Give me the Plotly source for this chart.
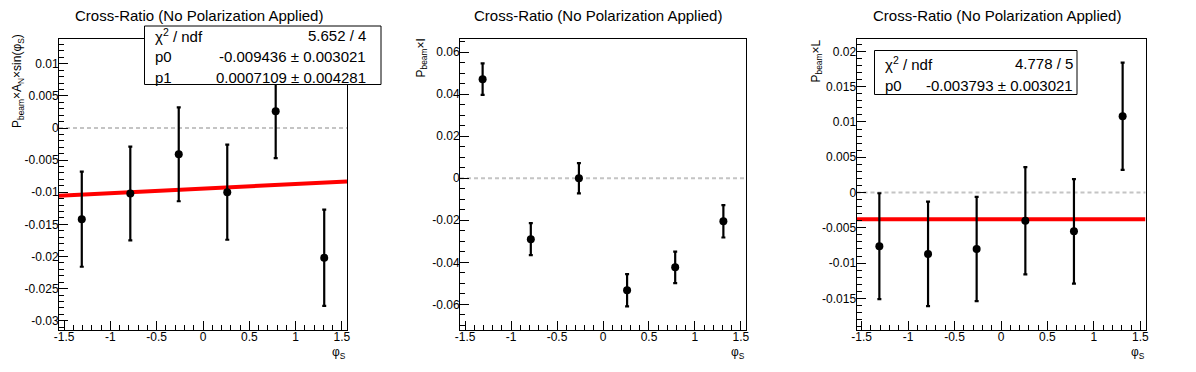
import plotly.graph_objects as go

# ---------------- data ----------------
phi = [-1.309, -0.785, -0.262, 0.262, 0.785, 1.309]

an_y = [-0.0142, -0.0102, -0.0041, -0.0100, 0.0026, -0.0202]
an_err = [0.0074, 0.0073, 0.0073, 0.0074, 0.0073, 0.0075]

i_y = [0.0471, -0.0290, 0.0000, -0.0533, -0.0424, -0.0205]
i_err = [0.0075, 0.0076, 0.0072, 0.0077, 0.0075, 0.0077]

l_y = [-0.0076, -0.0087, -0.0080, -0.0040, -0.0055, 0.0108]
l_err = [0.0075, 0.0074, 0.0074, 0.0076, 0.0074, 0.0076]

fit1_p0, fit1_p1 = -0.009436, 0.0007109
fit3_p0 = -0.003793

x_ticks = [-1.5, -1, -0.5, 0, 0.5, 1, 1.5]
x_ticklabels = ["-1.5", "-1", "-0.5", "0", "0.5", "1", "1.5"]
y1_ticks = [-0.03, -0.025, -0.02, -0.015, -0.01, -0.005, 0, 0.005, 0.01]
y1_ticklabels = ["-0.03", "-0.025", "-0.02", "-0.015", "-0.01", "-0.005", "0", "0.005", "0.01"]
y2_ticks = [-0.06, -0.04, -0.02, 0, 0.02, 0.04, 0.06]
y2_ticklabels = ["-0.06", "-0.04", "-0.02", "0", "0.02", "0.04", "0.06"]
y3_ticks = [-0.015, -0.01, -0.005, 0, 0.005, 0.01, 0.015, 0.02]
y3_ticklabels = ["-0.015", "-0.01", "-0.005", "0", "0.005", "0.01", "0.015", "0.02"]

title_text = "Cross-Ratio (No Polarization Applied)"

# ---------------- layout geometry (pixels) ----------------
W, H = 1196, 372
FONT = "Liberation Sans, Arial, Helvetica, sans-serif"


def px(x):
    return x / W


def py(y):
    return 1 - y / H


frames = [(59, 347), (460, 746), (856.5, 1145.5)]
ftop, fbot = 39, 330
xr = [-1.555, 1.555]
yranges = [[-0.03145, 0.01386], [-0.0722, 0.0662], [-0.01948, 0.02176]]

fig = go.Figure()

# fit lines (drawn first so markers sit on top)
fx = [xr[0], xr[1]]
fig.add_trace(go.Scatter(x=fx, y=[fit1_p0 + fit1_p1 * v for v in fx], mode="lines",
                         line=dict(color="#ff0000", width=4), xaxis="x", yaxis="y",
                         showlegend=False, hoverinfo="skip"))
fig.add_trace(go.Scatter(x=fx, y=[fit3_p0 for v in fx], mode="lines",
                         line=dict(color="#ff0000", width=4), xaxis="x3", yaxis="y3",
                         showlegend=False, hoverinfo="skip"))

for k, (yy, ee) in enumerate([(an_y, an_err), (i_y, i_err), (l_y, l_err)]):
    xa = "x" if k == 0 else f"x{k+1}"
    ya = "y" if k == 0 else f"y{k+1}"
    fig.add_trace(go.Scatter(
        x=phi, y=yy, mode="markers", xaxis=xa, yaxis=ya, showlegend=False,
        marker=dict(color="black", size=8, symbol="circle"),
        error_y=dict(type="data", array=ee, visible=True, color="black",
                     thickness=2.2, width=2),
    ))

ytick_sets = [(y1_ticks, y1_ticklabels, 0.001), (y2_ticks, y2_ticklabels, 0.005),
              (y3_ticks, y3_ticklabels, 0.001)]

layout = dict(
    width=W, height=H, margin=dict(l=0, r=0, t=0, b=0),
    paper_bgcolor="white", plot_bgcolor="white",
    font=dict(family=FONT, color="black", size=12),
    showlegend=False,
)

shapes = []
annotations = []
for k in range(3):
    sx = "" if k == 0 else str(k + 1)
    x0, x1 = frames[k]
    tv, tl, ydt = ytick_sets[k]
    layout["xaxis" + sx] = dict(
        domain=[px(x0), px(x1)], anchor="y" + sx, range=xr,
        tickmode="array", tickvals=x_ticks, ticktext=x_ticklabels,
        ticks="inside", ticklen=9, tickwidth=1, tickcolor="black",
        minor=dict(tickmode="linear", tick0=0, dtick=0.1, ticks="inside",
                   ticklen=5, tickwidth=1, tickcolor="black", showgrid=False),
        showline=True, linecolor="black", linewidth=1, mirror=True,
        showgrid=False, zeroline=False, automargin=False,
        ticklabelstandoff=-4,
        tickfont=dict(family=FONT, size=12, color="black"),
    )
    layout["yaxis" + sx] = dict(
        domain=[py(fbot), py(ftop)], anchor="x" + sx, range=yranges[k],
        tickmode="array", tickvals=tv, ticktext=tl,
        ticks="inside", ticklen=9, tickwidth=1, tickcolor="black",
        minor=dict(tickmode="linear", tick0=0, dtick=ydt, ticks="inside",
                   ticklen=5, tickwidth=1, tickcolor="black", showgrid=False),
        showline=True, linecolor="black", linewidth=1, mirror=True,
        showgrid=False, zeroline=False, automargin=False,
        ticklabelstandoff=-3,
        tickfont=dict(family=FONT, size=12, color="black"),
    )
    # dashed zero line
    shapes.append(dict(type="line", xref=f"x{sx} domain", yref="y" + sx,
                       x0=0, x1=1, y0=0, y1=0, layer="below",
                       line=dict(color="#c4c4c4", width=2, dash="4px,3px")))
    # pad title
    pad_c = [199, 598, 997][k]
    annotations.append(dict(text=title_text, xref="paper", yref="paper",
                            x=px(pad_c), y=py(16), xanchor="center", yanchor="middle",
                            showarrow=False, font=dict(family=FONT, size=15, color="black")))
    # x title
    annotations.append(dict(text="φ<sub>S</sub>", xref="paper", yref="paper",
                            x=px(x1 + 1), y=py(343), xanchor="right", yanchor="top",
                            showarrow=False, font=dict(family=FONT, size=12, color="black")))

ytitles = [("P<sub>beam</sub>×A<sub>N</sub>×sin(φ<sub>S</sub>)", 18, 32),
           ("P<sub>beam</sub>×I", 421, 37),
           ("P<sub>beam</sub>×L", 816, 38)]
for t, xc, yt in ytitles:
    annotations.append(dict(text=t, xref="paper", yref="paper", x=px(xc), y=py(yt),
                            xanchor="center", yanchor="top", textangle=-90,
                            showarrow=False, font=dict(family=FONT, size=12, color="black")))

# stats boxes
STAT = 15
shapes.append(dict(type="rect", xref="paper", yref="paper", x0=px(144.5), x1=px(381),
                   y0=py(84.5), y1=py(26), layer="above",
                   fillcolor="white", line=dict(color="black", width=1)))
stat1 = [("χ<sup>2</sup> / ndf", "5.652 / 4", 35.5),
         ("p0", "-0.009436 ± 0.003021", 57),
         ("p1", "0.0007109 ± 0.004281", 77)]
for lab, val, yc in stat1:
    annotations.append(dict(text=lab, xref="paper", yref="paper", x=px(153), y=py(yc),
                            xanchor="left", yanchor="middle", showarrow=False,
                            font=dict(family=FONT, size=STAT, color="black")))
    annotations.append(dict(text=val, xref="paper", yref="paper", x=px(367.5), y=py(yc),
                            xanchor="right", yanchor="middle", showarrow=False,
                            font=dict(family=FONT, size=STAT, color="black")))

shapes.append(dict(type="rect", xref="paper", yref="paper", x0=px(874.5), x1=px(1077),
                   y0=py(94.5), y1=py(50.5), layer="above",
                   fillcolor="white", line=dict(color="black", width=1)))
stat3 = [("χ<sup>2</sup> / ndf", "4.778 / 5", 63.5),
         ("p0", "-0.003793 ± 0.003021", 85)]
for lab, val, yc in stat3:
    annotations.append(dict(text=lab, xref="paper", yref="paper", x=px(883), y=py(yc),
                            xanchor="left", yanchor="middle", showarrow=False,
                            font=dict(family=FONT, size=STAT, color="black")))
    annotations.append(dict(text=val, xref="paper", yref="paper", x=px(1075), y=py(yc),
                            xanchor="right", yanchor="middle", showarrow=False,
                            font=dict(family=FONT, size=STAT, color="black")))

layout["shapes"] = shapes
layout["annotations"] = annotations
fig.update_layout(**layout)

fig.write_html("out.html",
               config={"displayModeBar": False, "staticPlot": True},
               post_script="document.body.style.margin='0';document.body.style.padding='0';")
